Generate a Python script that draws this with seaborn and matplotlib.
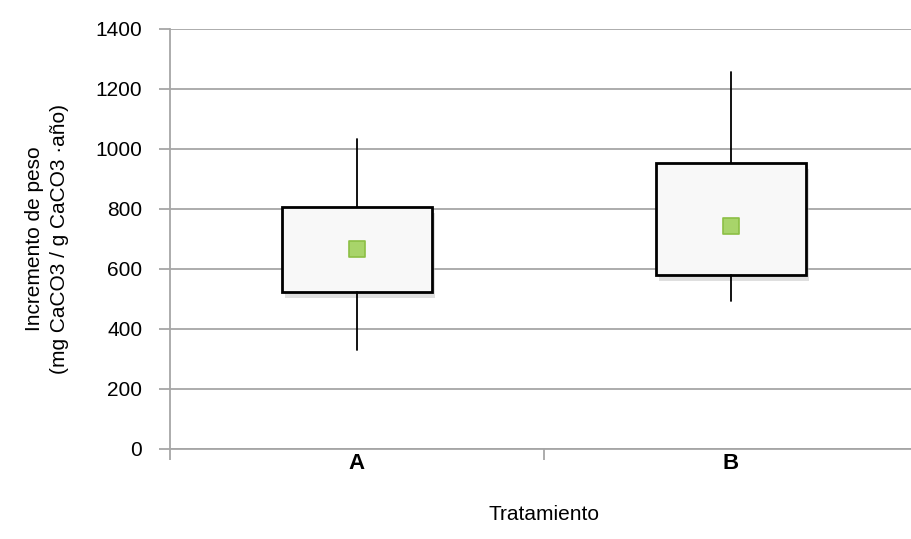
import matplotlib
matplotlib.use("Agg")
import matplotlib.pyplot as plt
import matplotlib.patheffects as pe
import seaborn as sns
import pandas as pd

# ----------------------------------------------------------
# Données
# ----------------------------------------------------------
tratamientos = ["A", "B"]
minimos = [330, 492]
q1 = [523, 580]
q3 = [806, 953]
maximos = [1032, 1258]
medias = [668, 743]

sns.set_style("white")
plt.rcParams["font.family"] = ["Liberation Sans Narrow", "Liberation Sans", "DejaVu Sans"]
plt.rcParams["text.color"] = "black"
plt.rcParams["axes.labelcolor"] = "black"
plt.rcParams["xtick.color"] = "black"
plt.rcParams["ytick.color"] = "black"

fig = plt.figure(figsize=(9.12, 5.39), dpi=100)
ax = fig.add_axes([170 / 912, (539 - 449) / 539, 748 / 912, 420 / 539])

# cajas (stats pré-calculées)
stats = []
for i, t in enumerate(tratamientos):
    stats.append({"label": t, "whislo": minimos[i], "q1": q1[i], "med": q1[i],
                  "q3": q3[i], "whishi": maximos[i], "fliers": []})

res = ax.bxp(stats, positions=range(len(tratamientos)), widths=0.4,
             patch_artist=True, showcaps=False, showfliers=False,
             boxprops=dict(facecolor="#f8f8f8", edgecolor="black", linewidth=2),
             whiskerprops=dict(color="black", linewidth=1.3),
             medianprops=dict(visible=False), zorder=3)
for b in res["boxes"]:
    b.set_path_effects([pe.SimplePatchShadow(offset=(2, -4), shadow_rgbFace="#b8b8b8", alpha=0.45),
                        pe.Normal()])

# medias
df = pd.DataFrame({"Tratamiento": tratamientos, "Media": medias})
sns.scatterplot(data=df, x=[0, 1], y="Media", marker="s", s=130, color="#a8d46a",
                edgecolor="#8cbf45", linewidth=1.2, ax=ax, zorder=4, legend=False)

ax.set_xlim(-0.5, 1.5)
ax.set_ylim(0, 1400)
ax.set_yticks(range(0, 1401, 200))
ax.yaxis.grid(True, color="#a6a6a6", linewidth=1.3)
ax.set_axisbelow(True)

ax.set_xticks([0, 1])
ax.set_xticklabels(tratamientos, fontweight="bold", fontsize=16)
ax.set_xticks([-0.5, 0.5], minor=True)
ax.tick_params(axis="x", which="major", bottom=False, length=0, pad=3)
ax.tick_params(axis="x", which="minor", bottom=True, length=8, width=1.3,
               color="#a6a6a6", direction="out")
ax.tick_params(axis="y", left=True, length=8, width=1.3, color="#a6a6a6",
               labelcolor="black", direction="out", labelsize=15, pad=12)

for s in ["top", "right"]:
    ax.spines[s].set_visible(False)
for s in ["left", "bottom"]:
    ax.spines[s].set_color("#a6a6a6")
    ax.spines[s].set_linewidth(1.3)

ax.set_xlabel("Tratamiento", fontsize=15, labelpad=22)
ax.set_ylabel("Incremento de peso\n(mg CaCO3 / g CaCO3 ·año)", fontsize=15,
              labelpad=19, linespacing=1.4)

fig.savefig("out.png", dpi=100)
